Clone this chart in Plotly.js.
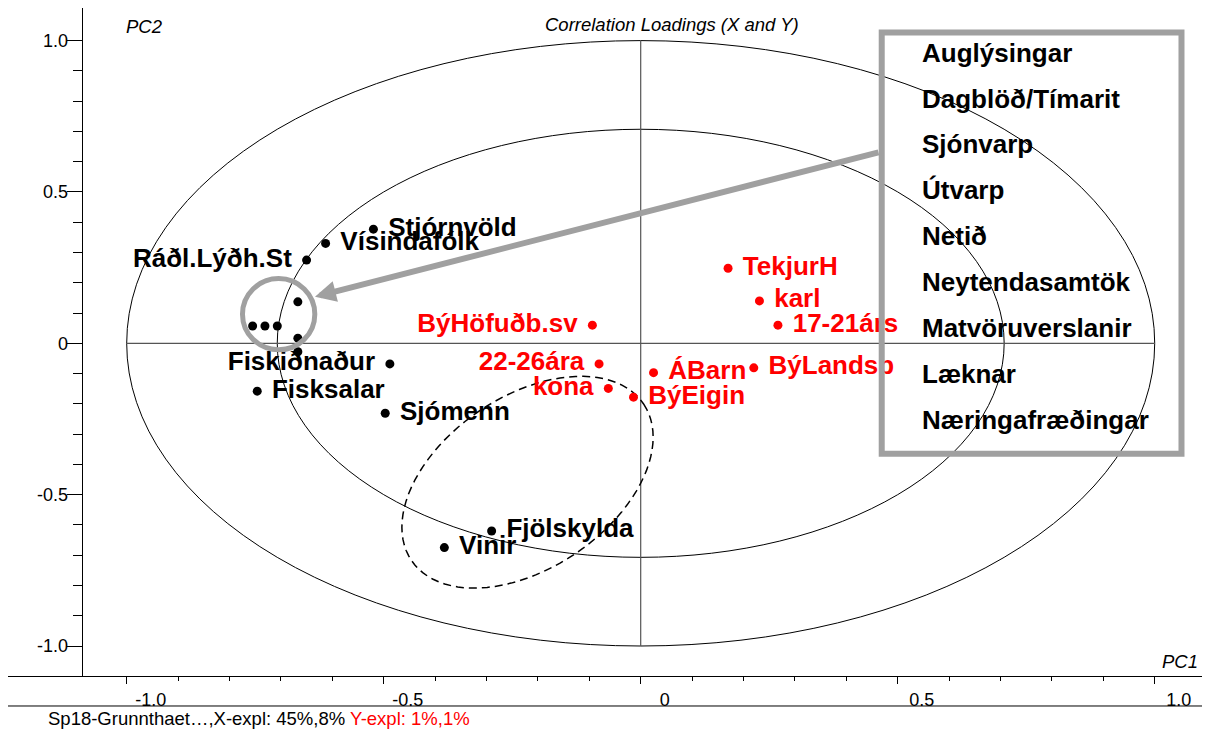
<!DOCTYPE html>
<html><head><meta charset="utf-8">
<script src="https://cdn.plot.ly/plotly-3.0.1.min.js"></script>
<style>html,body{margin:0;padding:0;background:#fff;} #chart{width:1210px;height:731px;}</style>
</head><body><div id="chart"></div>
<script>
const FONT = 'Liberation Sans, Arial, Helvetica, sans-serif';

// X-loadings with labels (black)
const xLabels = ['Stjórnvöld','Vísindafólk','Ráðl.Lýðh.St','Fiskiðnaður','Fisksalar','Sjómenn','Fjölskylda','Vinir'];
const xPC1    = [-0.520, -0.613, -0.650, -0.488, -0.746, -0.497, -0.290, -0.382];
const xPC2    = [ 0.377,  0.330,  0.275, -0.068, -0.158, -0.231, -0.620, -0.675];
const xSide   = ['right','right','left','left','right','right','right','right'];

// Unlabelled X-loadings (information sources, inside the grey circle)
const srcPC1 = [-0.667, -0.755, -0.731, -0.707, -0.667, -0.667];
const srcPC2 = [ 0.137,  0.057,  0.057,  0.057,  0.017, -0.028];

// Y-loadings (red)
const yLabels = ['TekjurH','karl','17-21árs','BýHöfuðb.sv','22-26ára','ÁBarn','BýLandsb','kona','BýEigin'];
const yPC1    = [0.170, 0.231, 0.267, -0.094, -0.081, 0.025, 0.220, -0.063, -0.014];
const yPC2    = [0.248, 0.140, 0.060,  0.060, -0.068, -0.097, -0.081, -0.149, -0.178];
const ySide   = ['right','right','right','left','left','right','right','left','right'];

// Box list of information sources
const sourceNames = ['Auglýsingar','Dagblöð/Tímarit','Sjónvarp','Útvarp','Netið','Neytendasamtök','Matvöruverslanir','Læknar','Næringafræðingar'];

// Axis ticks
const xTickVals = [-1, -0.5, 0, 0.5, 1];
const xTickText = ['-1.0', '-0.5', '0', '0.5', '1.0'];
const yTickVals = [1, 0.5, 0, -0.5, -1];
const yTickText = ['1.0', '0.5', '0', '-0.5', '-1.0'];
const minorVals = [-0.9,-0.8,-0.7,-0.6,-0.4,-0.3,-0.2,-0.1,0.1,0.2,0.3,0.4,0.6,0.7,0.8,0.9];

const xr = [-1.2309, 1.0920];
const yr = [-1.0991, 1.1077];
const PW = 1194, PH = 668;
const XS = PW / (xr[1] - xr[0]);
const YS = PH / (yr[1] - yr[0]);

function ellipsePath(cx, cy, aPx, bPx, angDeg) {
  const phi = angDeg * Math.PI / 180;
  let d = '';
  for (let i = 0; i <= 96; i++) {
    const t = i / 96 * 2 * Math.PI;
    const dxp = aPx * Math.cos(t) * Math.cos(phi) + bPx * Math.sin(t) * Math.sin(phi);
    const dyp = -aPx * Math.cos(t) * Math.sin(phi) + bPx * Math.sin(t) * Math.cos(phi);
    const x = cx + dxp / XS, y = cy - dyp / YS;
    d += (i ? 'L' : 'M') + x.toFixed(4) + ',' + y.toFixed(4);
  }
  return d + 'Z';
}

const pos = s => s === 'left' ? 'middle left' : 'middle right';

const traces = [
  {type:'scatter', mode:'markers', x: srcPC1, y: srcPC2, marker:{size:9, color:'#000'}, hoverinfo:'skip'},
  {type:'scatter', mode:'markers', x: xPC1, y: xPC2, marker:{size:9, color:'#000'}, hoverinfo:'skip'},
  {type:'scatter', mode:'markers+text', x: xPC1, y: xPC2, text: xLabels, textposition: xSide.map(pos),
   marker:{size:22, opacity:0}, textfont:{family:FONT, size:26, color:'#000', weight:'bold'}, hoverinfo:'skip'},
  {type:'scatter', mode:'markers', x: yPC1, y: yPC2, marker:{size:9, color:'#ff0000'}, hoverinfo:'skip'},
  {type:'scatter', mode:'markers+text', x: yPC1, y: yPC2, text: yLabels, textposition: ySide.map(pos),
   marker:{size:22, opacity:0}, textfont:{family:FONT, size:26, color:'#ff0000', weight:'bold'}, hoverinfo:'skip'}
];

const r2 = Math.SQRT1_2;
const shapes = [
  {type:'circle', xref:'x', yref:'y', x0:-1, x1:1, y0:-1, y1:1, line:{color:'#000', width:1}, layer:'below'},
  {type:'circle', xref:'x', yref:'y', x0:-r2, x1:r2, y0:-r2, y1:r2, line:{color:'#000', width:1}, layer:'below'},
  {type:'line', xref:'x', yref:'y', x0:-1, x1:1, y0:0, y1:0, line:{color:'#555', width:1.2}, layer:'below'},
  {type:'line', xref:'x', yref:'y', x0:0, x1:0, y0:-1, y1:1, line:{color:'#555', width:1.2}, layer:'below'},
  {type:'path', xref:'x', yref:'y', path: ellipsePath(-0.2202, -0.4589, 140, 86, 34), line:{color:'#000', width:1.5, dash:'8px,5px'}, layer:'below'},
  {type:'circle', xref:'x', yref:'y', x0:-0.7747, x1:-0.634, y0:-0.0215, y1:0.214, line:{color:'#a0a0a0', width:5}},
  {type:'rect', xref:'x', yref:'y', x0:0.4689, x1:1.0521, y0:-0.3647, y1:1.0268, line:{color:'#a0a0a0', width:6}},
  {type:'line', xref:'paper', yref:'paper', x0:0, x1:1, y0:-0.0449, y1:-0.0449, line:{color:'#000', width:1}}
];

const annotations = [
  {xref:'paper', yref:'paper', x:0.5559, y:0.9746, xanchor:'center', yanchor:'middle', showarrow:false,
   text:'<i>Correlation Loadings (X and Y)</i>', font:{family:FONT, size:18.5, color:'#000'}},
  {xref:'paper', yref:'paper', x:0.1147, y:0.972, xanchor:'center', yanchor:'middle', showarrow:false,
   text:'<i>PC2</i>', font:{family:FONT, size:18.5, color:'#000'}},
  {xref:'paper', yref:'paper', x:0.9983, y:0.0214, xanchor:'right', yanchor:'middle', showarrow:false,
   text:'<i>PC1</i>', font:{family:FONT, size:18.5, color:'#000'}},
  {xref:'paper', yref:'paper', x:0.0318, y:-0.0629, xanchor:'left', yanchor:'middle', showarrow:false,
   text:'Sp18-Grunnthaet…,X-expl: 45%,8% <span style="color:#ff0000">Y-expl: 1%,1%</span>', font:{family:FONT, size:18.5, color:'#000'}},
  {xref:'x', yref:'y', x:-0.6337, y:0.154, axref:'x', ayref:'y', ax:0.4656, ay:0.632, text:'', showarrow:true,
   arrowhead:2, arrowsize:0.7, arrowwidth:6, arrowcolor:'#a0a0a0'}
];
sourceNames.forEach((name, i) => {
  annotations.push({xref:'x', yref:'y', x:0.5428, y:0.960 - i * 0.1515, xanchor:'left', yanchor:'middle',
    showarrow:false, text:'<b>' + name + '</b>', font:{family:FONT, size:26, color:'#000'}});
});

const layout = {
  width:1210, height:731,
  margin:{l:8, r:8, t:8, b:55, pad:0},
  paper_bgcolor:'#fff', plot_bgcolor:'rgba(0,0,0,0)',
  showlegend:false, hovermode:false,
  xaxis:{range:xr, domain:[0,1], showline:true, linecolor:'#000', linewidth:1, ticks:'outside', ticklen:7, tickwidth:1, tickcolor:'#000',
    tickmode:'array', tickvals:xTickVals, ticktext:xTickText, tickfont:{family:FONT, size:18, color:'#000'}, ticklabelshift:24,
    showgrid:false, zeroline:false, fixedrange:true,
    minor:{tickmode:'array', tickvals:minorVals, ticks:'outside', ticklen:4, tickwidth:1, tickcolor:'#000', showgrid:false}},
  yaxis:{range:yr, anchor:'free', position:0.0616, showline:true, linecolor:'#000', linewidth:1, ticks:'outside', ticklen:15, tickwidth:1, tickcolor:'#000',
    tickmode:'array', tickvals:yTickVals, ticktext:yTickText, tickfont:{family:FONT, size:18, color:'#000'}, ticklabelstandoff:-5,
    showgrid:false, zeroline:false, fixedrange:true,
    minor:{tickmode:'array', tickvals:minorVals, ticks:'outside', ticklen:9, tickwidth:1, tickcolor:'#000', showgrid:false}},
  shapes: shapes,
  annotations: annotations
};

Plotly.newPlot('chart', traces, layout, {displayModeBar:false, staticPlot:true});
</script></body></html>
